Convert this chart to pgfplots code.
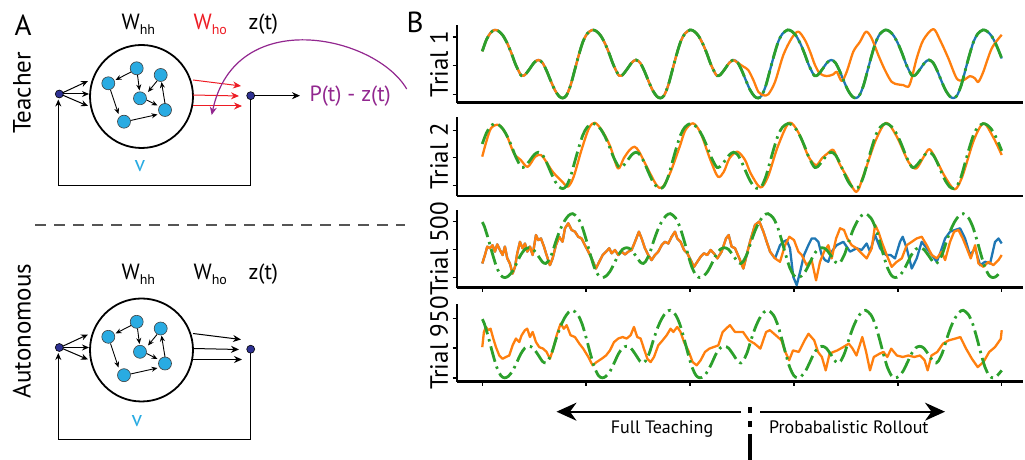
\documentclass[border=0pt]{standalone}
\usepackage{pgfplots}
\pgfplotsset{compat=1.18}
\usepackage{pgfplotstable}
\usetikzlibrary{arrows.meta}
\usepackage{fontspec}
\setmainfont{PT Sans}
\setsansfont{PT Sans}
\definecolor{tabblue}{HTML}{1F77B4}
\definecolor{taborange}{HTML}{FF7F0E}
\definecolor{tabgreen}{HTML}{2CA02C}
\definecolor{nodecyan}{HTML}{29ABE2}
\definecolor{navy}{HTML}{2E3192}
\definecolor{redarrow}{HTML}{ED1C24}
\definecolor{purp}{HTML}{92278F}
\definecolor{sepgray}{HTML}{555555}
\newcommand{\fs}[1]{\fontsize{#1pt}{#1pt}\selectfont}

% target signal, trials 1 and 2
\pgfplotstableread[row sep=\\]{
t u\\
0 0.5\\ 4 0.9\\ 8 1.14\\
12 1.24\\ 16 1.19\\ 20 1.04\\ 24 0.78\\ 28 0.44\\ 32 0.05\\ 36 -0.25\\ 38 -0.35\\ 41 -0.32\\ 45 -0.14\\ 50 0.11\\ 54 0.2\\ 58 0.1\\ 62 -0.18\\ 66 -0.53\\ 70 -0.85\\ 74 -1.06\\ 77.5 -1.12\\ 81 -1.03\\ 85 -0.68\\ 89 -0.15\\ 93 0.38\\ 97 0.84\\ 101 1.11\\
106 1.24\\ 110 1.19\\ 114 1.04\\ 118 0.78\\ 122 0.44\\ 126 0.05\\ 130 -0.25\\ 132 -0.35\\ 135 -0.32\\ 139 -0.14\\ 144 0.11\\ 148 0.2\\ 152 0.1\\ 156 -0.18\\ 160 -0.53\\ 164 -0.85\\ 168 -1.06\\ 171.5 -1.12\\ 175 -1.03\\ 179 -0.68\\ 183 -0.15\\ 187 0.38\\ 191 0.84\\ 195 1.11\\
200 1.24\\ 204 1.19\\ 208 1.04\\ 212 0.78\\ 216 0.44\\ 220 0.05\\ 224 -0.25\\ 226 -0.35\\ 229 -0.32\\ 233 -0.14\\ 238 0.11\\ 242 0.2\\ 246 0.1\\ 250 -0.18\\ 254 -0.53\\ 258 -0.85\\ 262 -1.06\\ 265.5 -1.12\\ 269 -1.03\\ 273 -0.68\\ 277 -0.15\\ 281 0.38\\ 285 0.84\\ 289 1.11\\
294 1.24\\ 298 1.19\\ 302 1.04\\ 306 0.78\\ 310 0.44\\ 314 0.05\\ 318 -0.25\\ 320 -0.35\\ 323 -0.32\\ 327 -0.14\\ 332 0.11\\ 336 0.2\\ 340 0.1\\ 344 -0.18\\ 348 -0.53\\ 352 -0.85\\ 356 -1.06\\ 359.5 -1.12\\ 363 -1.03\\ 367 -0.68\\ 371 -0.15\\ 375 0.38\\ 379 0.84\\ 383 1.11\\
388 1.24\\ 392 1.19\\ 396 1.04\\ 400 0.78\\ 404 0.44\\ 408 0.05\\ 412 -0.25\\ 414 -0.35\\ 417 -0.32\\ 421 -0.14\\ 426 0.11\\ 430 0.2\\ 434 0.1\\ 438 -0.18\\ 442 -0.53\\ 446 -0.85\\ 450 -1.06\\ 453.5 -1.12\\ 457 -1.03\\ 461 -0.68\\ 465 -0.15\\ 469 0.38\\ 473 0.84\\ 477 1.11\\
482 1.24\\ 486 1.19\\ 490 1.04\\ 494 0.78\\ 498 0.44\\ 500 0.25\\
}\tA

% target signal, trials 500 and 950
\pgfplotstableread[row sep=\\]{
t u\\
0 0.97\\ 2 0.82\\ 6 0.35\\ 10 -0.18\\ 14 -0.65\\ 18 -0.93\\ 21.5 -1.0\\ 25 -0.95\\ 29 -0.78\\ 33 -0.5\\ 37 -0.2\\ 41 0.0\\ 45 0.06\\ 49 0.0\\ 54 -0.24\\ 58 -0.45\\ 61 -0.5\\ 63 -0.44\\ 67 -0.15\\ 71 0.3\\ 75 0.7\\ 79 1.0\\ 83 1.2\\
87 1.27\\ 92 1.12\\ 96 0.82\\ 100 0.35\\ 104 -0.18\\ 108 -0.65\\ 112 -0.93\\ 115.5 -1.0\\ 119 -0.95\\ 123 -0.78\\ 127 -0.5\\ 131 -0.2\\ 135 0.0\\ 139 0.06\\ 143 0.0\\ 148 -0.24\\ 152 -0.45\\ 155 -0.5\\ 157 -0.44\\ 161 -0.15\\ 165 0.3\\ 169 0.7\\ 173 1.0\\ 177 1.2\\
181 1.27\\ 186 1.12\\ 190 0.82\\ 194 0.35\\ 198 -0.18\\ 202 -0.65\\ 206 -0.93\\ 209.5 -1.0\\ 213 -0.95\\ 217 -0.78\\ 221 -0.5\\ 225 -0.2\\ 229 0.0\\ 233 0.06\\ 237 0.0\\ 242 -0.24\\ 246 -0.45\\ 249 -0.5\\ 251 -0.44\\ 255 -0.15\\ 259 0.3\\ 263 0.7\\ 267 1.0\\ 271 1.2\\
275 1.27\\ 280 1.12\\ 284 0.82\\ 288 0.35\\ 292 -0.18\\ 296 -0.65\\ 300 -0.93\\ 303.5 -1.0\\ 307 -0.95\\ 311 -0.78\\ 315 -0.5\\ 319 -0.2\\ 323 0.0\\ 327 0.06\\ 331 0.0\\ 336 -0.24\\ 340 -0.45\\ 343 -0.5\\ 345 -0.44\\ 349 -0.15\\ 353 0.3\\ 357 0.7\\ 361 1.0\\ 365 1.2\\
369 1.27\\ 374 1.12\\ 378 0.82\\ 382 0.35\\ 386 -0.18\\ 390 -0.65\\ 394 -0.93\\ 397.5 -1.0\\ 401 -0.95\\ 405 -0.78\\ 409 -0.5\\ 413 -0.2\\ 417 0.0\\ 421 0.06\\ 425 0.0\\ 430 -0.24\\ 434 -0.45\\ 437 -0.5\\ 439 -0.44\\ 443 -0.15\\ 447 0.3\\ 451 0.7\\ 455 1.0\\ 459 1.2\\
463 1.27\\ 468 1.12\\ 472 0.82\\ 476 0.35\\ 480 -0.18\\ 484 -0.65\\ 488 -0.93\\ 491.5 -1.0\\ 495 -0.95\\ 500 -0.75\\
}\tB

% network output, trial 500
\pgfplotstableread[row sep=\\]{
t u\\
0 -0.5\\ 2.6 -0.2\\ 4.8 0.1\\ 7.4 0.04\\ 9.9 0.15\\ 12.2 -0.08\\ 14.4 0.18\\ 17.0 -0.02\\ 19.6 -0.2\\ 21.8 0.1\\ 24.1 -0.32\\ 26.6 -0.5\\ 29.2 -0.86\\ 31.5 -0.62\\ 33.7 -0.14\\ 36.3 0.27\\ 38.8 0.04\\ 41.1 0.21\\ 43.3 -0.08\\ 45.9 0.1\\ 48.5 -0.2\\ 51.7 0.51\\ 53.9 0.33\\ 56.5 0.39\\ 59.4 0.1\\ 61.9 -0.2\\ 65.1 -0.56\\ 67.7 -0.32\\ 70.9 0.15\\ 74.1 0.45\\ 77.3 0.27\\ 79.6 0.75\\ 82.8 0.93\\ 86.0 0.69\\ 89.2 0.63\\ 92.4 0.45\\ 95.6 0.39\\ 98.8 0.15\\ 102.1 -0.08\\ 105.3 -0.32\\ 109.4 -0.68\\ 112.6 -0.44\\ 115.9 -0.2\\ 119.1 -0.08\\ 122.3 0.04\\ 124.5 -0.14\\ 127.7 -0.02\\ 130.9 -0.2\\ 134.1 -0.08\\ 137.4 -0.18\\ 140.6 -0.08\\ 143.8 -0.02\\ 147.0 0.27\\ 150.8 0.63\\ 153.4 0.39\\ 156.6 0.04\\ 159.8 -0.2\\ 163.0 -0.38\\ 166.2 -0.2\\ 169.4 -0.08\\ 172.7 0.15\\ 175.9 0.27\\ 179.1 0.21\\ 182.3 0.45\\ 185.5 0.63\\ 187.7 0.39\\ 190.9 0.27\\ 194.2 -0.02\\ 197.4 -0.14\\ 200.6 -0.38\\ 203.8 -0.62\\ 207.0 -0.44\\ 210.2 -0.26\\ 213.4 -0.14\\ 216.6 -0.2\\ 219.8 -0.02\\ 223.0 -0.14\\ 226.3 -0.32\\ 230.4 -0.08\\ 234.6 0.39\\ 237.2 0.51\\ 240.0 0.1\\
243.3 0.04\\ 247.5 -0.32\\ 251.3 -0.68\\ 254.5 -0.2\\ 257.7 0.27\\ 262.5 0.87\\ 266.7 0.99\\ 270.6 0.63\\ 273.8 0.27\\ 277.0 -0.08\\ 281.8 -0.32\\ 286.6 -0.44\\ 291.4 0.15\\ 295.6 0.45\\ 300.1 0.33\\ 304.3 -0.08\\ 307.5 -0.2\\ 312.3 -0.56\\ 317.1 -0.38\\ 321.3 -1.1\\ 325.1 -0.44\\ 329.0 -0.08\\ 333.1 0.15\\ 336.3 -0.32\\ 340.6 0.39\\ 344.4 0.75\\ 348.2 0.69\\ 351.4 0.39\\ 355.6 0.15\\ 360.4 0.04\\ 365.2 -0.14\\ 370.0 -0.32\\ 374.9 0.04\\ 378.1 0.87\\ 381.3 0.63\\ 384.5 0.27\\ 389.3 -0.2\\ 394.1 -0.62\\ 399.0 -0.44\\ 403.8 -0.32\\ 408.6 0.15\\ 413.4 0.27\\ 418.2 0.39\\ 423.0 0.45\\ 427.8 0.15\\ 432.7 -0.2\\ 437.5 -0.32\\ 442.3 -0.08\\ 445.5 -0.38\\ 450.3 0.27\\ 454.2 0.63\\ 458.4 0.69\\ 462.5 0.39\\ 466.4 0.04\\ 470.2 -0.32\\ 474.4 0.15\\ 477.6 -0.5\\ 482.4 -0.62\\ 487.2 -0.44\\ 492.0 -0.56\\ 496.9 -0.38\\ 500 -0.2\\
}\tOF

\pgfplotsset{
 trial/.style={scale only axis, width=566.3pt, xmin=-24.6, xmax=520.5,
   axis x line*=bottom, axis y line*=left,
   axis line style={-},
   x axis line style={-, line width=2.6pt},
   y axis line style={-, line width=2pt},
   ytick={-1,0,1}, yticklabels={,,},
   tick align=outside, major tick length=4pt,
   tick style={black, line width=1.4pt},
   xtick=\empty, no markers, clip=false,
   ylabel style={font=\fs{25}, at={(axis description cs:-0.031,0.5)}, anchor=center},
   anchor=south west},
 tgreen/.style={color=tabgreen, line width=2.8pt, smooth, tension=0.5, dash pattern=on 16pt off 5pt on 2.5pt off 5pt},
 torange/.style={color=taborange, line width=2.3pt, line join=round},
 tblue/.style={color=tabblue, line width=2.3pt, line join=round},
}

\newcommand{\net}[2]{%
\begin{scope}[shift={(0,#1)}]
\draw[line width=1.8pt] (141.5,96.5) circle[radius=51.5pt];
\draw[line width=1pt] (250.7,99) -- (250.7,185.7) -- (58.3,185.7);
\draw[line width=1pt, -{Stealth[length=7pt,width=6pt]}] (58.3,185.7) -- (58.3,99.5);
\draw[line width=1pt,-{Stealth[length=7pt,width=6pt]}] (60,94) -- (88,81);
\draw[line width=1pt,-{Stealth[length=7pt,width=6pt]}] (60,94) -- (89,94);
\draw[line width=1pt,-{Stealth[length=7pt,width=6pt]}] (60,94) -- (88,106);
\draw[#2, line width=1pt, -{Stealth[length=8pt,width=7pt]}] (193,80) -- (241,86);
\draw[#2, line width=1pt, -{Stealth[length=8pt,width=7pt]}] (193,95) -- (239,96);
\draw[#2, line width=1pt, -{Stealth[length=8pt,width=7pt]}] (193,106) -- (242,106);
\foreach \px/\py in {136.7/68.3, 160.7/75, 108.3/83.3, 140/98.3, 165/110, 124/121.7}
  \filldraw[fill=nodecyan, draw=black!75, line width=0.6pt] (\px,\py) circle[radius=6.5pt];
\draw[line width=0.9pt,-{Stealth[length=6pt,width=5pt]}] (131,72) -- (115.5,80);
\draw[line width=0.9pt,-{Stealth[length=6pt,width=5pt]}] (137.5,75) -- (139.5,90.5);
\draw[line width=0.9pt,-{Stealth[length=6pt,width=5pt]}] (157,81) -- (148,92);
\draw[line width=0.9pt,-{Stealth[length=6pt,width=5pt]}] (165,103.5) -- (161.5,82);
\draw[line width=0.9pt,-{Stealth[length=6pt,width=5pt]}] (146.5,100) -- (157.5,105.5);
\draw[line width=0.9pt,-{Stealth[length=6pt,width=5pt]}] (110.5,90) -- (118.5,114);
\draw[line width=0.9pt,-{Stealth[length=6pt,width=5pt]}] (130.5,120.5) -- (157.5,114.5);
\filldraw[fill=navy, draw=black, line width=0.6pt] (59.3,94) circle[radius=4pt];
\filldraw[fill=navy, draw=black, line width=0.6pt] (250.7,95.7) circle[radius=4pt];
\end{scope}}

\begin{document}
\begin{tikzpicture}
\useasboundingbox (0,0) rectangle (1025pt,460pt);

\begin{scope}[x=1pt,y=-1pt,shift={(0pt,460pt)}]
\node[font=\fs{29}] at (23,25) {A};
\node[font=\fs{29}] at (415,22) {B};
\node[font=\fs{25}, rotate=90] at (22,93) {Teacher};
\node[font=\fs{25}, rotate=90] at (22,331) {Autonomous};
\draw[sepgray, line width=1.5pt, dash pattern=on 11pt off 8pt] (35,225) -- (405,225);
\net{0}{redarrow}
\net{253.5}{black}
\node[anchor=base west, font=\fs{22}] at (118,30) {W\raisebox{-5pt}{\fs{14}hh}};
\node[anchor=base west, font=\fs{22}, text=redarrow] at (190,30) {W\raisebox{-5pt}{\fs{14}ho}};
\node[anchor=base west, font=\fs{22}] at (245,30) {z(t)};
\node[anchor=base west, font=\fs{22}] at (118,280) {W\raisebox{-5pt}{\fs{14}hh}};
\node[anchor=base west, font=\fs{22}] at (190,280) {W\raisebox{-5pt}{\fs{14}ho}};
\node[anchor=base west, font=\fs{22}] at (245,280) {z(t)};
\node[anchor=base, font=\fs{22}, text=nodecyan] at (140,172) {v};
\node[anchor=base, font=\fs{22}, text=nodecyan] at (137,426.7) {v};
\draw[-{Stealth[length=8pt,width=7pt]}, line width=1pt] (254,95.7) -- (300,95.7);
\node[anchor=base west, font=\fs{22}, text=purp] at (306,102) {P(t) - z(t)};
\draw[purp, line width=1.2pt, -{Stealth[length=8pt,width=7pt]}] (406.7,89) .. controls (375,35) and (235,5) .. (211.7,115);
\draw[line width=2pt, -{Stealth[length=20pt,width=18pt]}] (741,411.7) -- (556.5,411.7);
\draw[line width=2pt, -{Stealth[length=20pt,width=18pt]}] (760,411.7) -- (945,411.7);
\draw[line width=3.5pt, dash pattern=on 6pt off 8pt on 6pt off 7pt on 40pt] (750,407) -- (750,460);
\node[anchor=base, font=\fs{18}] at (662,433.3) {Full Teaching};
\node[anchor=base, font=\fs{18}] at (848.8,433.3) {Probabalistic Rollout};
\end{scope}

% Trial 1
\begin{axis}[trial, at={(456.7pt,357.3pt)}, height=77.7pt, ymin=-1.28, ymax=1.41, ylabel={Trial 1}]
\addplot[tblue, smooth, tension=0.5] table[x=t,y=u] {\tA};
\addplot[torange, smooth, tension=0.5] table[x=t,y=u,restrict x to domain=0:242] {\tA};
\addplot[torange, smooth, tension=0.5] coordinates {(242,0.2) (246,0.1) (251.3,-0.03) (256,-0.15) (261,-0.5) (265.7,-0.9) (270.5,-1.02) (275.3,-0.99) (281.8,-0.56) (289.8,0.37) (297.8,0.95) (304.2,1.18) (310.6,0.89) (315.5,0.49) (320.3,0.02) (325,-0.27) (331.5,-0.36) (337.9,-0.3) (341.2,-0.21) (346,-0.53) (350.8,-0.21) (357.2,0.49) (363.6,0.83) (369.4,1.18) (374.8,0.95) (381.2,0.37) (387.6,-0.15) (394.1,-0.56) (400.5,-0.65) (405.3,-0.67) (410.1,-0.73) (413.3,-0.44) (418.2,0.26) (424.5,0.89) (434.1,1.27) (440.6,0.89) (448.6,0.26) (456.7,-0.44) (463,-0.5) (469.5,-0.36) (474.3,-0.44) (477.5,-0.56) (482.3,-0.21) (490.4,0.6) (500,1.07)};
\addplot[tgreen] table[x=t,y=u] {\tA};
\end{axis}

% Trial 2
\begin{axis}[trial, at={(456.7pt,264pt)}, height=79pt, ymin=-1.39, ymax=1.48, ylabel={Trial 2}]
\addplot[torange, smooth, tension=0.5] coordinates {(0,0.04) (3.5,0.53) (8.4,1.07) (15.9,1.19) (23.3,0.83) (30.5,0.16) (37,-0.08) (43.7,-0.33) (51,0.04) (56.5,0.1) (60.4,-0.08) (67.8,-0.51) (77,-0.87) (82.5,-1.05) (88,-0.69) (95.5,0.28) (102.7,1.07) (108.5,1.27) (115.9,0.95) (123.3,0.4) (130.6,-0.39) (136.2,-0.02) (141.8,0.28) (146.6,0.4) (151,0.22) (158.4,-0.33) (167.7,-0.99) (173.3,-1.08) (180.7,-0.57) (190,0.4) (195.5,1.0) (202.9,1.25) (210.3,0.89) (219.6,-0.08) (226.9,-0.69) (232.5,-0.51) (238,-0.02) (245.5,0.22) (252.9,-0.08) (258.4,-0.57) (267.7,-1.08) (275,-0.69) (284.4,0.4) (295.3,1.27) (304.7,0.89) (314,0.04) (321.4,-0.27) (327,-0.02) (332.5,0.16) (338,0.28) (343.6,-0.2) (351,-0.69) (360.2,-1.24) (367.6,-0.57) (378.8,0.64) (388.8,1.27) (399.1,0.76) (410.2,-0.15) (417.7,-0.39) (425,0.04) (430.6,0.31) (438,-0.15) (445.4,-0.69) (454.7,-1.15) (462,-0.69) (473.2,0.64) (482.5,1.25) (491.6,0.76) (500,0.1)};
\addplot[tgreen] table[x=t,y=u] {\tA};
\end{axis}

% Trial 500
\begin{axis}[trial, at={(456.7pt,172.3pt)}, height=77.7pt, ymin=-1.36, ymax=1.40, ylabel={Trial 500}, xtick={0,100,200,300,400,500}, xticklabels={,,,,,}]
\addplot[tblue] table[x=t,y=u,restrict x to domain=0:282] {\tOF};
\addplot[tblue] coordinates {(281.8,-0.32) (286.6,0.15) (289.8,0.27) (293.0,0.33) (296.2,0.04) (299.4,-0.98) (302.7,-1.27) (305.9,-0.8) (309.7,-0.2) (313.9,0.15) (317.1,0.39) (320.3,0.39) (323.5,0.27) (326.7,-0.2) (329.9,-0.38) (333.1,-0.44) (336.3,-0.08) (341.1,0.15) (347.6,0.27) (354.0,-0.08) (360.4,0.04) (365.2,-0.02) (370.0,0.21) (373.2,-0.08) (378.1,0.51) (382.9,0.04) (388.6,-0.2) (393.1,-0.2) (397.3,-0.32) (402.1,0.27) (404.7,0.45) (408.6,0.04) (413.4,-0.68) (418.2,-0.32) (423.0,0.27) (427.8,0.04) (432.7,-0.2) (437.5,-0.44) (441.3,-0.08) (445.5,0.39) (450.3,0.63) (455.1,0.69) (459.9,0.75) (464.7,0.39) (469.5,-0.2) (474.4,0.04) (479.2,-0.56) (484.0,-0.44) (488.8,-0.5) (493.6,0.27) (496.9,0.39) (500,0.21)};
\addplot[torange] table[x=t,y=u] {\tOF};
\addplot[tgreen] table[x=t,y=u] {\tB};
\end{axis}

% Trial 950
\begin{axis}[trial, at={(456.7pt,78.3pt)}, height=77.4pt, ymin=-1.13, ymax=1.47, ylabel={Trial 950}, xtick={0,100,200,300,400,500}, xticklabels={,,,,,}]
\addplot[torange] coordinates {(0,0.03) (1.6,0.54) (3.5,0.71) (5.8,0.6) (8.0,0.65) (10.6,0.32) (13.2,0.03) (16.4,-0.25) (19.6,-0.36) (22.8,-0.3) (26.0,-0.25) (29.2,0.09) (32.4,0.32) (35.6,0.2) (37.9,0.43) (41.1,0.6) (43.3,0.65) (45.9,0.37) (48.5,0.54) (51.7,0.2) (54.9,0.03) (58.7,-0.02) (61.9,-0.13) (65.1,-0.36) (68.4,-0.02) (71.6,0.43) (75.4,0.82) (78.6,0.65) (81.2,0.77) (85.0,0.43) (89.2,0.37) (93.4,0.15) (97.2,-0.02) (102.1,-0.3) (106.2,-0.58) (110.1,-0.47) (114.9,-0.36) (119.1,-0.25) (122.9,-0.08) (126.8,0.2) (130.9,0.32) (135.1,0.37) (139.0,0.32) (142.8,0.43) (146.0,0.71) (149.2,0.37) (152.4,0.32) (155.6,-0.02) (158.9,-0.36) (162.1,-0.47) (165.3,-0.3) (169.4,0.09) (173.6,0.26) (177.5,0.43) (181.3,0.65) (183.9,0.54) (187.7,0.71) (190.9,0.54) (194.2,0.2) (198.3,-0.08) (202.5,-0.47) (206.4,-0.58) (210.2,-0.41) (214.4,-0.13) (218.5,-0.02) (222.4,0.03) (227.2,0.09) (231.4,0.54) (234.6,0.65) (238.4,0.77) (243.3,0.54) (251.0,0.54) (256.6,0.26) (262.1,0.15) (267.7,-0.02) (273.2,0.54) (276.9,0.6) (282.5,0.43) (288.0,0.26) (291.7,-0.13) (295.4,-0.41) (299.1,-0.08) (304.7,-0.13) (310.3,0.26) (314.0,0.48) (319.5,0.26) (323.2,-0.13) (326.9,-0.3) (330.6,-0.75) (334.3,-0.19) (338.0,-0.13) (341.7,-0.08) (347.3,0.03) (352.8,0.15) (356.5,-0.02) (360.2,-0.25) (365.8,0.37) (369.5,-0.13) (373.2,-0.75) (376.9,-0.3) (382.4,-0.19) (386.2,-0.13) (389.9,-0.3) (393.6,-0.02) (399.1,-0.25) (404.7,-0.3) (410.2,-0.25) (415.8,-0.3) (421.3,-0.25) (425.8,-0.41) (428.7,-0.75) (432.4,-0.25) (438.0,-0.13) (443.5,0.15) (449.1,0.26) (454.6,0.31) (460.2,0.37) (465.7,-0.02) (471.3,-0.36) (476.9,-0.64) (482.4,-0.47) (488.0,-0.13) (493.5,0.03) (499.1,0.31) (500,0.6)};
\addplot[tgreen] table[x=t,y=u] {\tB};
\end{axis}
\end{tikzpicture}
\end{document}
